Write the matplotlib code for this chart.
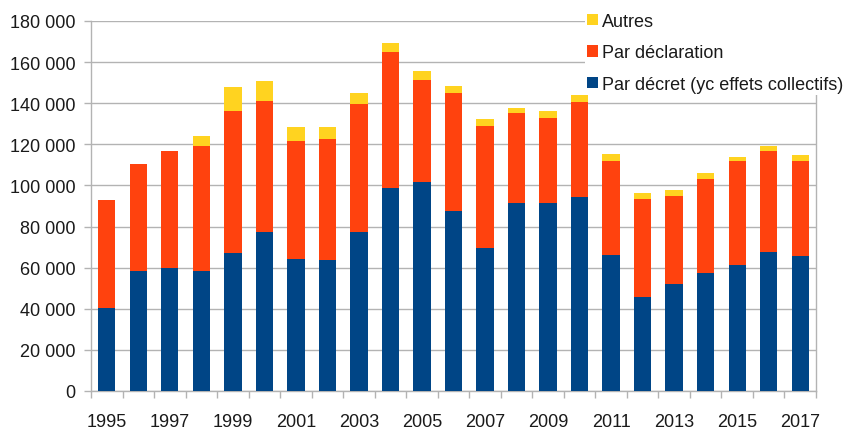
import matplotlib
matplotlib.use("Agg")
from matplotlib import pyplot as plt
from matplotlib.ticker import FixedLocator, FuncFormatter

plt.rcParams['font.family'] = ['Liberation Sans', 'DejaVu Sans']

years = list(range(1995, 2018))
decret = [40500, 58200, 60000, 58200, 67100, 77200, 64200, 63500, 77200, 98900,
          101700, 87400, 69700, 91600, 91500, 94200, 66300, 45900, 52000, 57400,
          61400, 67600, 65700]
declaration = [52400, 52400, 56800, 61100, 69100, 63900, 57200, 59200, 62600, 66200,
               49700, 57700, 59200, 43500, 41500, 46200, 45600, 47700, 43000, 45700,
               50500, 49200, 46200]
autres = [0, 0, 0, 4900, 11700, 9700, 6800, 5500, 5300, 4000,
          4100, 3400, 3400, 2700, 3400, 3400, 3400, 2700, 2600, 2800,
          2100, 2500, 2700]

c_blue = "#004586"
c_red = "#ff420e"
c_yel = "#ffd320"
grey = "#b3b3b3"

fig = plt.figure(figsize=(8.46, 4.31), dpi=100)
ax = fig.add_axes([91 / 846, 39 / 431, 725 / 846, 370 / 431])

x = list(range(len(years)))
w = 0.55
bottom2 = decret
bottom3 = [a + b for a, b in zip(decret, declaration)]
b1 = ax.bar(x, decret, w, color=c_blue, zorder=3)
b2 = ax.bar(x, declaration, w, bottom=bottom2, color=c_red, zorder=3)
b3 = ax.bar(x, autres, w, bottom=bottom3, color=c_yel, zorder=3)

ax.set_xlim(-0.5, len(years) - 0.5)
ax.set_ylim(0, 180000)
ax.yaxis.set_major_locator(FixedLocator(range(0, 180001, 20000)))
ax.yaxis.set_major_formatter(FuncFormatter(lambda v, p: "{:,}".format(int(v)).replace(",", " ")))
ax.grid(axis="y", color=grey, linewidth=1, zorder=0)

ax.set_xticks(x[::2])
ax.set_xticklabels([str(y) for y in years[::2]])
ax.set_xticks([i - 0.5 for i in range(len(years) + 1)], minor=True)
ax.tick_params(axis="x", which="major", length=0, pad=16)
ax.tick_params(axis="x", which="minor", length=5, color=grey, width=1)
ax.tick_params(axis="y", length=5, color=grey, width=1, pad=6)
ax.tick_params(labelsize=13, labelcolor="#1a1a1a")

ax.spines["top"].set_visible(False)
for s in ["left", "bottom", "right"]:
    ax.spines[s].set_color(grey)
    ax.spines[s].set_linewidth(1)

leg = fig.legend([b3, b2, b1], ["Autres", "Par déclaration", "Par décret (yc effets collectifs)"],
                 loc="upper left", bbox_to_anchor=(585 / 846, 1 - 12 / 431), fontsize=13,
                 frameon=True, facecolor="white", edgecolor="none", framealpha=1,
                 handlelength=0.6, handleheight=0.6, handletextpad=0.25,
                 labelspacing=0.8, borderpad=0.1, borderaxespad=0, fancybox=False)
for t in leg.get_texts():
    t.set_color("#1a1a1a")

fig.savefig("out.png", dpi=100)
